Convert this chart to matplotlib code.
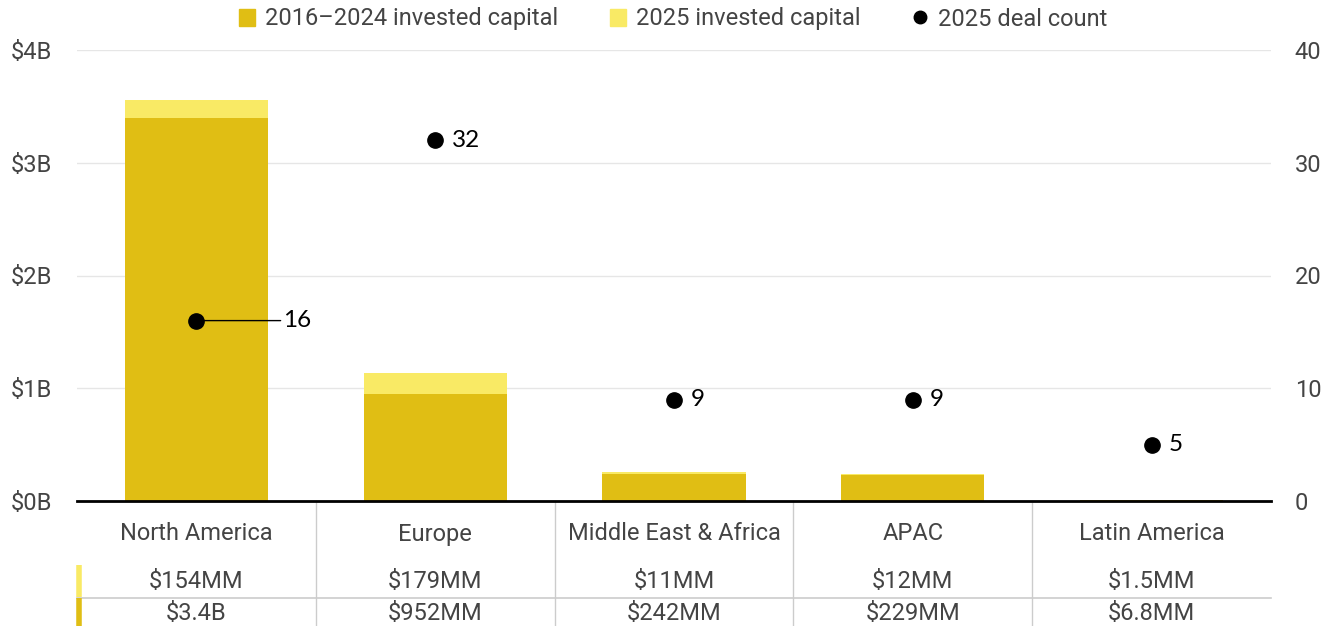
import matplotlib
matplotlib.use("Agg")
import matplotlib.pyplot as plt
from matplotlib.lines import Line2D
from matplotlib.patches import Patch
import matplotlib.transforms as mtransforms

regions = ["North America", "Europe", "Middle East & Africa", "APAC", "Latin America"]
capital_2016_2024 = [3.4, 0.952, 0.242, 0.229, 0.0068]   # $B
capital_2025 = [0.154, 0.179, 0.011, 0.012, 0.0015]      # $B
deal_count_2025 = [16, 32, 9, 9, 5]
row_2025_labels = ["$154MM", "$179MM", "$11MM", "$12MM", "$1.5MM"]
row_prior_labels = ["$3.4B", "$952MM", "$242MM", "$229MM", "$6.8MM"]

dark = "#E0BE14"
light = "#F9EA65"
text_col = "#444444"
grid_col = "#E6E6E6"
sep_col = "#CCCCCC"
fs = 17

plt.rcParams['font.family'] = ['Roboto', 'DejaVu Sans']

W, H = 1337, 626
fig = plt.figure(figsize=(W / 100, H / 100), dpi=100)
ax_l, ax_r, ax_b, ax_t = 77, 1271, 501, 50
ax = fig.add_axes([ax_l / W, 1 - ax_b / H, (ax_r - ax_l) / W, (ax_b - ax_t) / H])
ax2 = ax.twinx()

x = list(range(len(regions)))
ax.bar(x, capital_2016_2024, width=0.6, color=dark, zorder=2)
ax.bar(x, capital_2025, width=0.6, bottom=capital_2016_2024, color=light, zorder=2)

ax.set_xlim(-0.5, len(regions) - 0.5)
ax.set_ylim(0, 4)
ax2.set_ylim(0, 40)
ax.set_yticks([0, 1, 2, 3, 4])
ax.set_yticklabels(["$0B", "$1B", "$2B", "$3B", "$4B"])
ax2.set_yticks([0, 10, 20, 30, 40])
ax.set_xticks([])
for a in (ax, ax2):
    for s in a.spines.values():
        s.set_visible(False)
    a.tick_params(length=0, labelsize=fs, colors=text_col)
ax.tick_params(axis='y', pad=48)
for lab in ax.get_yticklabels():
    lab.set_horizontalalignment('left')
ax2.tick_params(axis='y', pad=17)

px_w = ax_r - ax_l
px_h = ax_b - ax_t

for v in [1, 2, 3, 4]:
    ax.axhline(v, color=grid_col, lw=1, zorder=0)
ax.axhline(0, color="black", lw=2, zorder=3, clip_on=False)

# deal count dots on the right axis
ax2.plot(x, deal_count_2025, 'o', color="black", markersize=11, zorder=5)
for i, n in enumerate(deal_count_2025):
    if i == 0:
        ax2.annotate(str(n), xy=(i, n), xytext=(87, 0), textcoords='offset pixels',
                     va='center', ha='left', fontsize=fs + 0.5, color='black', family='Lato',
                     arrowprops=dict(arrowstyle='-', color='black', lw=1, shrinkA=0, shrinkB=2))
    else:
        ax2.annotate(str(n), xy=(i, n), xytext=(17, 0), textcoords='offset pixels',
                     va='center', ha='left', fontsize=fs + 0.5, color='black', family='Lato')

# table below the chart
def ay(py):
    return (ax_b - py) / px_h

trans = mtransforms.blended_transform_factory(ax.transData, ax.transAxes)
for i in range(len(regions)):
    ax.text(i, ay(534), regions[i], transform=trans, ha='center', va='center',
            fontsize=fs, color=text_col, clip_on=False)
    ax.text(i, ay(581), row_2025_labels[i], transform=trans, ha='center', va='center',
            fontsize=fs, color=text_col, clip_on=False)
    ax.text(i, ay(613), row_prior_labels[i], transform=trans, ha='center', va='center',
            fontsize=fs, color=text_col, clip_on=False)
for i in range(1, len(regions)):
    ax.plot([i - 0.5, i - 0.5], [0, ay(626)], transform=trans, color=sep_col, lw=1, clip_on=False)
ax.plot([0, 1], [ay(598), ay(598)], transform=ax.transAxes, color=sep_col,
        lw=1.2, clip_on=False)
ax.plot([2 / px_w] * 2, [ay(565), ay(597)], transform=ax.transAxes, color=light,
        lw=4, solid_capstyle='butt', clip_on=False)
ax.plot([2 / px_w] * 2, [ay(598), ay(626)], transform=ax.transAxes, color=dark,
        lw=4, solid_capstyle='butt', clip_on=False)

handles = [Patch(color=dark, label="2016\u20132024 invested capital"),
           Patch(color=light, label="2025 invested capital"),
           Line2D([], [], marker='o', color='black', linestyle='none', markersize=9,
                  label="2025 deal count")]
leg = fig.legend(handles=handles, loc='center', bbox_to_anchor=(673 / W, 1 - 19 / H), ncol=3,
                 frameon=False, fontsize=fs, handlelength=0.7, handleheight=0.7,
                 handletextpad=0.4, columnspacing=2.2)
for t in leg.get_texts():
    t.set_color(text_col)

fig.savefig("out.png", dpi=100)
